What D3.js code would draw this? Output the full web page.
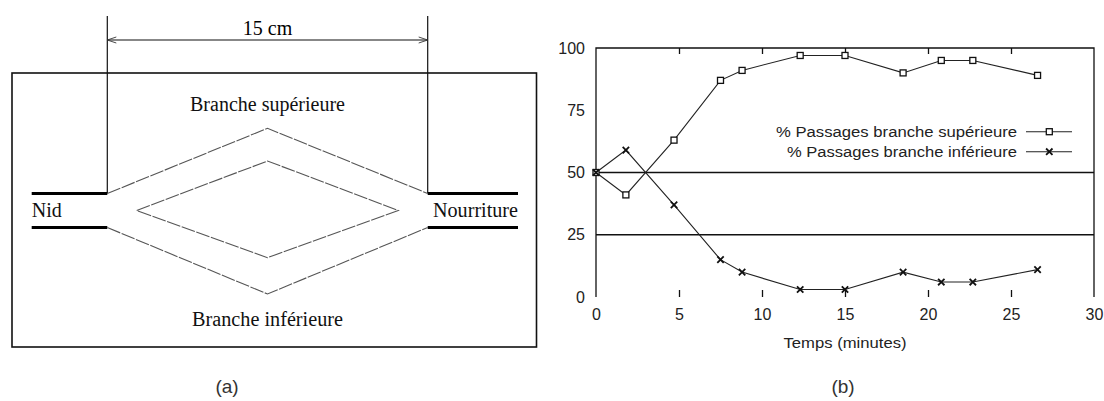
<!DOCTYPE html>
<html>
<head>
<meta charset="utf-8">
<script src="https://d3js.org/d3.v7.min.js"></script>
<style>
  body { margin: 0; background: #fff; }
  svg { display: block; }
</style>
</head>
<body>
<script>
// data (b)
var temps = [0, 1.8, 4.7, 7.5, 8.8, 12.3, 15, 18.5, 20.8, 22.7, 26.6];
var brancheSup = [50, 41, 63, 87, 91, 97, 97, 90, 95, 95, 89];
var brancheInf = [50, 59, 37, 15, 10, 3, 3, 10, 6, 6, 11];
var xTicks = [0, 5, 10, 15, 20, 25, 30];
var yTicks = [0, 25, 50, 75, 100];
var refLines = [25, 50];
var legendLabels = ["% Passages branche supérieure", "% Passages branche inférieure"];

var width = 1104, height = 401;

var svg = d3.select("body")
  .append("svg")
    .attr("width", width)
    .attr("height", height);

/**
 * drawDiagram - schematic (a): the two-branch bridge between nest and food
 */
function drawDiagram(g) {
  var serif = "'Liberation Serif', 'DejaVu Serif', serif";
  // 15 cm between the two junctions
  var cm = d3.scaleLinear().domain([0, 15]).range([107.3, 427.7]);
  var xl = cm(0), xr = cm(15), xm = cm(7.5);
  var yTop = 193.5, yBot = 227.5, yMid = 210.5;

  g.append("rect")
    .attr("x", 12).attr("y", 73)
    .attr("width", 524.5).attr("height", 274)
    .attr("fill", "none").attr("stroke", "#111").attr("stroke-width", 1.6);

  // vertical reference lines
  [xl, xr].forEach(function(x) {
    g.append("line")
      .attr("x1", x).attr("x2", x).attr("y1", 16).attr("y2", yTop)
      .attr("stroke", "#111").attr("stroke-width", 1.2);
  });

  // dimension arrow
  g.append("line")
    .attr("x1", xl).attr("x2", xr).attr("y1", 40).attr("y2", 40)
    .attr("stroke", "#111").attr("stroke-width", 1.2);
  g.append("path")
    .attr("d", "M" + (xl + 9) + ",37 L" + xl + ",40 L" + (xl + 9) + ",43" +
               "M" + (xr - 9) + ",37 L" + xr + ",40 L" + (xr - 9) + ",43")
    .attr("fill", "none").attr("stroke", "#333").attr("stroke-width", 0.9);

  g.append("text")
    .attr("x", (xl + xr) / 2).attr("y", 35)
    .attr("text-anchor", "middle")
    .style("font-family", serif).style("font-size", "20px")
    .text("15 cm");

  // nest and food corridors
  [[31.7, xl], [xr, 518]].forEach(function(seg) {
    [yTop, yBot].forEach(function(y) {
      g.append("line")
        .attr("x1", seg[0]).attr("x2", seg[1]).attr("y1", y).attr("y2", y)
        .attr("stroke", "#000").attr("stroke-width", 3.2);
    });
  });

  // branches
  var line = d3.line();
  var branchPaths = [
    [[xl, yTop], [xm, 128.3], [xr, yTop]],
    [[xl, yBot], [xm, 294], [xr, yBot]],
    [[136.7, yMid], [xm, 161], [398.3, yMid], [xm, 257.7], [136.7, yMid]]
  ];
  g.selectAll("path.branch")
    .data(branchPaths)
    .enter()
    .append("path")
      .attr("class", "branch")
      .attr("d", line)
      .attr("fill", "none")
      .attr("stroke", "#555")
      .attr("stroke-width", 1.1)
      .attr("stroke-dasharray", "14,1.5");

  var labels = [
    {t: "Branche supérieure", x: xm, y: 111, a: "middle", w: 155},
    {t: "Branche inférieure", x: xm, y: 326, a: "middle", w: 151},
    {t: "Nid", x: 31.7, y: 217, a: "start", w: 30},
    {t: "Nourriture", x: 518, y: 217, a: "end", w: 85}
  ];
  g.selectAll("text.lbl")
    .data(labels)
    .enter()
    .append("text")
      .attr("class", "lbl")
      .attr("x", function(d) { return d.x; })
      .attr("y", function(d) { return d.y; })
      .attr("text-anchor", function(d) { return d.a; })
      .attr("textLength", function(d) { return d.w; })
      .attr("lengthAdjust", "spacingAndGlyphs")
      .style("font-family", serif).style("font-size", "20px")
      .attr("fill", "#111")
      .text(function(d) { return d.t; });
}

/**
 * drawChart - plot (b): share of passages on each branch over time
 */
function drawChart(g) {
  var sans = "'Liberation Sans', Arial, sans-serif";
  var x = d3.scaleLinear().domain([0, 30]).range([596, 1094]);
  var y = d3.scaleLinear().domain([0, 100]).range([297, 48]);

  // frame: left, top, right (no bottom line in the original)
  g.append("path")
    .attr("d", "M" + x(0) + "," + y(0) + "V" + y(100) + "H" + x(30) + "V" + y(0))
    .attr("fill", "none").attr("stroke", "#111").attr("stroke-width", 1.3);

  g.selectAll("line.ref")
    .data(refLines)
    .enter()
    .append("line")
      .attr("class", "ref")
      .attr("x1", x(0)).attr("x2", x(30))
      .attr("y1", function(d) { return y(d); })
      .attr("y2", function(d) { return y(d); })
      .attr("stroke", "#111").attr("stroke-width", 1.3);

  var inner = xTicks.slice(1, -1);

  var xAxis = g.append("g")
    .attr("transform", "translate(0," + y(0) + ")")
    .call(d3.axisBottom(x).tickValues(xTicks).tickSize(0).tickPadding(12));
  xAxis.select(".domain").remove();

  g.append("g")
    .attr("transform", "translate(0," + y(0) + ")")
    .call(d3.axisBottom(x).tickValues(inner).tickSize(-7).tickFormat(""))
    .call(function(a) { a.select(".domain").remove(); });
  g.append("g")
    .attr("transform", "translate(0," + y(100) + ")")
    .call(d3.axisTop(x).tickValues(inner).tickSize(-6).tickFormat(""))
    .call(function(a) { a.select(".domain").remove(); });

  var yAxis = g.append("g")
    .attr("transform", "translate(" + x(0) + ",0)")
    .call(d3.axisLeft(y).tickValues(yTicks).tickSize(0).tickPadding(11));
  yAxis.select(".domain").remove();

  g.selectAll(".tick line").attr("stroke", "#111").attr("stroke-width", 1.3);
  g.selectAll(".tick text")
    .style("font-family", sans).style("font-size", "16px").attr("fill", "#222");

  g.append("text")
    .attr("x", x(15)).attr("y", 348)
    .attr("text-anchor", "middle")
    .attr("textLength", 123).attr("lengthAdjust", "spacingAndGlyphs")
    .style("font-family", sans).style("font-size", "15px").attr("fill", "#222")
    .text("Temps (minutes)");

  var series = [
    {values: brancheSup, marker: "square"},
    {values: brancheInf, marker: "cross"}
  ];

  var line = d3.line()
    .x(function(d) { return x(d[0]); })
    .y(function(d) { return y(d[1]); });

  series.forEach(function(s, i) {
    var pts = temps.map(function(t, k) { return [t, s.values[k]]; });
    g.append("path")
      .attr("d", line(pts))
      .attr("fill", "none").attr("stroke", "#222").attr("stroke-width", 1.1);
    pts.forEach(function(p) {
      drawMarker(g, s.marker, x(p[0]), y(p[1]));
    });

    // legend row
    var ly = 131.7 + i * 20;
    g.append("text")
      .attr("x", 1017).attr("y", ly + 5)
      .attr("text-anchor", "end")
      .attr("textLength", i === 0 ? 241 : 230)
      .attr("lengthAdjust", "spacingAndGlyphs")
      .style("font-family", sans).style("font-size", "14px").attr("fill", "#222")
      .text(legendLabels[i]);
    g.append("line")
      .attr("x1", 1026).attr("x2", 1072).attr("y1", ly).attr("y2", ly)
      .attr("stroke", "#222").attr("stroke-width", 1.1);
    drawMarker(g, s.marker, 1049.3, ly);
  });
}

function drawMarker(g, type, cx, cy) {
  if (type === "square") {
    g.append("rect")
      .attr("x", cx - 3).attr("y", cy - 3)
      .attr("width", 6).attr("height", 6)
      .attr("fill", "#fff").attr("stroke", "#111").attr("stroke-width", 1.3);
  } else {
    var r = 3.2;
    g.append("path")
      .attr("d", "M" + (cx - r) + "," + (cy - r) + "L" + (cx + r) + "," + (cy + r) +
                 "M" + (cx - r) + "," + (cy + r) + "L" + (cx + r) + "," + (cy - r))
      .attr("stroke", "#111").attr("stroke-width", 1.8);
  }
}

drawDiagram(svg.append("g"));
drawChart(svg.append("g"));

// panel captions
svg.selectAll("text.caption")
  .data([["(a)", 227], ["(b)", 843]])
  .enter()
  .append("text")
    .attr("class", "caption")
    .attr("x", function(d) { return d[1]; })
    .attr("y", 393)
    .attr("text-anchor", "middle")
    .style("font-family", "'Liberation Sans', Arial, sans-serif")
    .style("font-size", "19px")
    .attr("fill", "#333")
    .text(function(d) { return d[0]; });
</script>
</body>
</html>
